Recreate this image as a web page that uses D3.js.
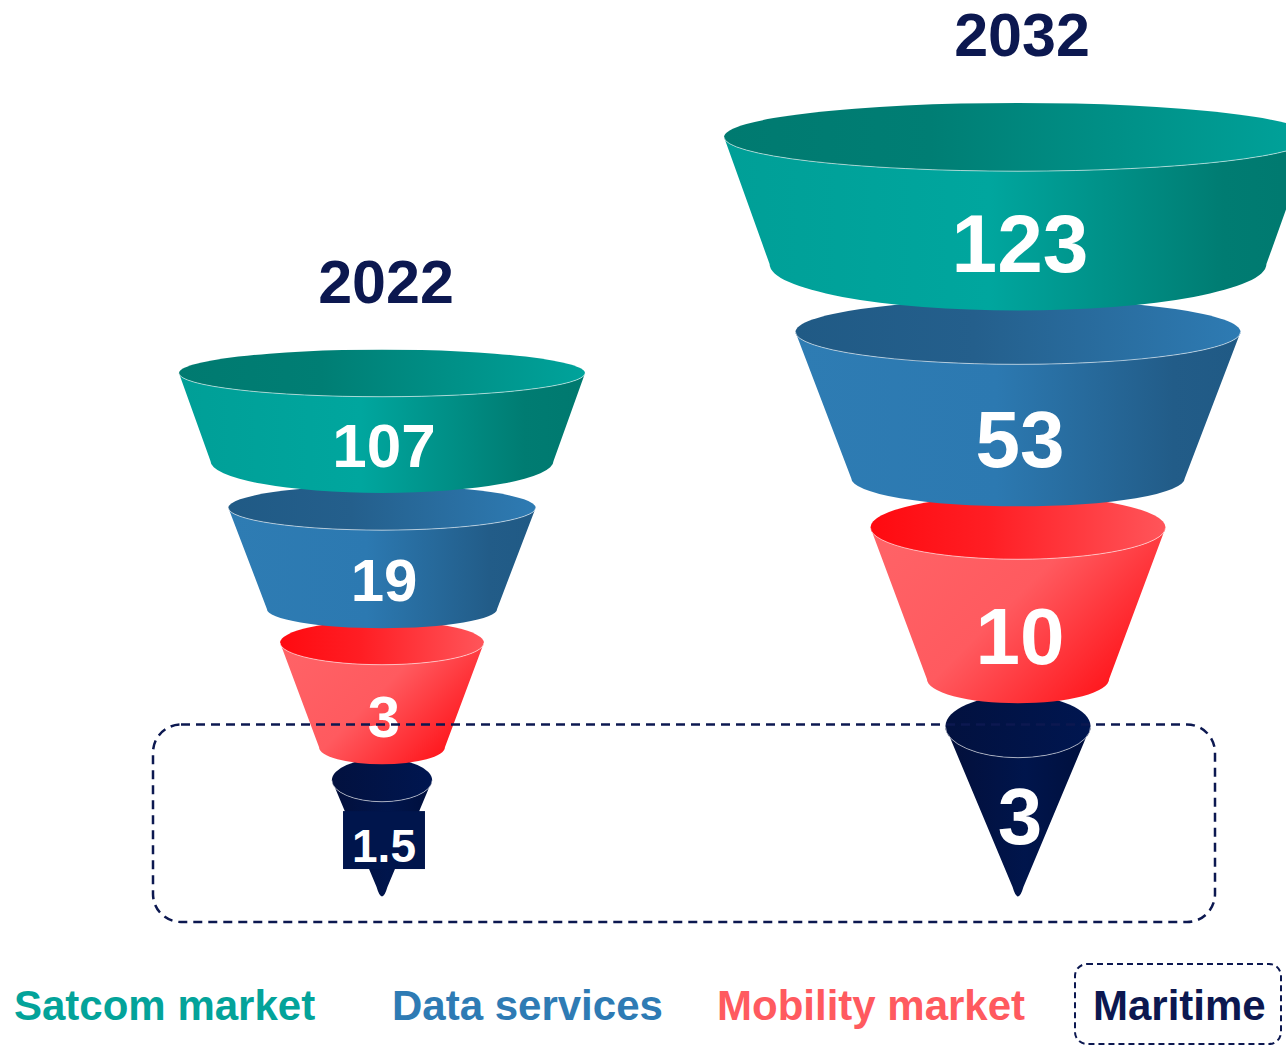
<!DOCTYPE html>
<html>
<head>
<meta charset="utf-8">
<script src="https://cdn.jsdelivr.net/npm/d3@7"></script>
<style>
  html, body { margin: 0; padding: 0; background: #fff; }
  svg { display: block; font-family: "Liberation Sans", Arial, sans-serif; font-weight: bold; }
</style>
</head>
<body>
<svg id="canvas" width="1286" height="1047"></svg>
<script>
// Market size by segment (values as printed on the funnels)
let years = ["2022", "2032"];
let segments = ["Satcom market", "Data services", "Mobility market", "Maritime"];
let values2022 = [107, 19, 3, 1.5];
let values2032 = [123, 53, 10, 3];
let valuesByYear = { "2022": values2022, "2032": values2032 };

// Look of each funnel layer, relative to the funnel's top radius
let shape = [
    { top: 1.0,   bot: 0.845, ryT: 0.116, ryB: 0.158, h: 0.432, gap: 0.231, lab: 1.065 },
    { top: 0.757, bot: 0.567, ryT: 0.110, ryB: 0.095, h: 0.498, gap: 0.167, lab: 0.92 },
    { top: 0.502, bot: 0.31,  ryT: 0.108, ryB: 0.083, h: 0.515, gap: 0.162, lab: 0.9 },
    { top: 0.247, bot: 0,     ryT: 0.106, ryB: 0,     h: 0.59,  gap: 0,     lab: 0.68 }
];
let labelSize = { "2022": [62, 60, 58, 46], "2032": [82, 80, 80, 80] };
let colorKeys = ["teal", "blue", "red", "navy"];
let legendColors = ["#03a39a", "#2e7bb4", "#ff5a5f", "#0c1850"];
let legendX = [14, 392, 717, 1093];
let navy = "#0c1850";
let tipY = 900;

let canvas = d3.select("#canvas");
let defs = canvas.append("defs");

// Gradients: body (outside wall) and top (inside of the opening)
let grads = {
    teal: { body: [[0, "#009f97"], [0.45, "#00a69e"], [0.85, "#007c72"], [1, "#00796f"]],
            top:  [[0, "#007a70"], [0.35, "#007e74"], [1, "#00a39b"]] },
    blue: { body: [[0, "#2e7cb3"], [0.45, "#2c79b1"], [0.85, "#225c88"], [1, "#205a85"]],
            top:  [[0, "#205a85"], [0.4, "#245f8c"], [1, "#2e7bb3"]] },
    red:  { body: [[0, "#ff6266"], [0.45, "#ff5a5f"], [0.78, "#ff2a30"], [1, "#ff0a10"]],
            top:  [[0, "#ff0a10"], [0.4, "#ff1e24"], [1, "#ff555a"]] },
    navy: { body: [[0, "#030f3a"], [0.55, "#00154c"], [1, "#000f3c"]],
            top:  [[0, "#02113f"], [1, "#001650"]] }
};
Object.keys(grads).forEach(k => {
    ["body", "top"].forEach(part => {
        let g = defs.append("linearGradient")
            .attr("id", k + "-" + part)
            .attr("x1", 0).attr("x2", 1)
            .attr("y1", (k == "red" && part == "body") ? 0.2 : 0)
            .attr("y2", (k == "red" && part == "body") ? 0.8 : 0);
        g.selectAll("stop").data(grads[k][part]).enter().append("stop")
            .attr("offset", d => d[0])
            .attr("stop-color", d => d[1]);
    });
});

// Funnel size follows the year's total, position follows the year
let totals = years.map(y => d3.sum(valuesByYear[y]));
let rScale = d3.scaleLinear().domain([0, d3.max(totals)]).range([0, 294]);
let xScale = d3.scalePoint().domain(years).range([382, 1018]);

let drawFunnel = (year) => {
    let vals = valuesByYear[year];
    let cx = xScale(year);
    let R = rScale(d3.sum(vals));
    let g = canvas.append("g");

    // work out layer positions top-down so the last tip lands on tipY
    let height = d3.sum(shape, s => s.h + s.gap) * R;
    let y = tipY - height;
    let layers = shape.map((s, i) => {
        let l = {
            i: i, value: vals[i],
            tR: s.top * R, bR: s.bot * R,
            tRy: s.ryT * R, bRy: s.ryB * R,
            tY: y, bY: y + s.h * R,
            labY: y + s.lab * s.h * R
        };
        y = l.bY + s.gap * R;
        return l;
    });

    let bodyPath = (l) => {
        if (l.bR > 0) {
            return "M" + (cx - l.tR) + "," + l.tY +
                "L" + (cx - l.bR) + "," + l.bY +
                "A" + l.bR + "," + l.bRy + " 0 0 0 " + (cx + l.bR) + "," + l.bY +
                "L" + (cx + l.tR) + "," + l.tY +
                "A" + l.tR + "," + l.tRy + " 0 0 1 " + (cx - l.tR) + "," + l.tY + "Z";
        }
        // cone with a rounded tip
        let len = Math.hypot(l.tR, l.bY - l.tY);
        let d = 14;
        let fx = l.tR * d / len, fy = (l.bY - l.tY) * d / len;
        return "M" + (cx - l.tR) + "," + l.tY +
            "L" + (cx - fx) + "," + (l.bY - fy) +
            "Q" + cx + "," + (l.bY + 6) + " " + (cx + fx) + "," + (l.bY - fy) +
            "L" + (cx + l.tR) + "," + l.tY +
            "A" + l.tR + "," + l.tRy + " 0 0 1 " + (cx - l.tR) + "," + l.tY + "Z";
    };

    // lower layers first, so each upper layer's rounded bottom covers the next rim
    let order = layers.slice().reverse();
    let layer = g.selectAll("g.layer").data(order).enter().append("g").attr("class", "layer");

    layer.append("path")
        .attr("d", bodyPath)
        .attr("fill", l => "url(#" + colorKeys[l.i] + "-body)");

    layer.append("ellipse")
        .attr("cx", cx).attr("cy", l => l.tY)
        .attr("rx", l => l.tR).attr("ry", l => l.tRy)
        .attr("fill", l => "url(#" + colorKeys[l.i] + "-top)");

    // thin light rim on the front edge
    layer.append("path")
        .attr("d", l => "M" + (cx - l.tR) + "," + l.tY + "A" + l.tR + "," + l.tRy + " 0 0 0 " + (cx + l.tR) + "," + l.tY)
        .attr("fill", "none")
        .attr("stroke", "rgba(255,255,255,0.55)")
        .attr("stroke-width", 1);

    // value labels
    layers.forEach(l => {
        let size = labelSize[year][l.i];
        let txt = g.append("text")
            .attr("x", cx + 2)
            .attr("y", l.labY)
            .attr("text-anchor", "middle")
            .attr("font-size", size)
            .attr("fill", "#fff")
            .text(String(l.value));
        // a label wider than the cone at its middle gets a dark plate behind it
        let w = txt.node().getComputedTextLength();
        let midY = l.labY - size * 0.36;
        let coneW = 2 * l.tR * (1 - (midY - l.tY) / (l.bY - l.tY));
        if (l.bR == 0 && w > coneW) {
            g.insert("rect", "text")
                .attr("x", cx + 2 - w / 2 - 9)
                .attr("y", l.labY - size * 1.1)
                .attr("width", w + 18)
                .attr("height", size * 1.26)
                .attr("fill", "#00154c");
        }
    });

    // year title above the funnel
    g.append("text")
        .attr("x", cx + 4)
        .attr("y", layers[0].tY - layers[0].tRy - 47)
        .attr("text-anchor", "middle")
        .attr("font-size", 61)
        .attr("fill", navy)
        .text(year);

    return layers;
};

let funnels = years.map(drawFunnel);

// dashed box around the maritime layer of both funnels
let mar2032 = funnels[1][3];
canvas.append("rect")
    .attr("x", xScale("2022") - 229)
    .attr("y", mar2032.tY - 2)
    .attr("width", xScale("2032") - xScale("2022") + 426)
    .attr("height", tipY + 22 - (mar2032.tY - 2))
    .attr("rx", 28).attr("ry", 28)
    .attr("fill", "none")
    .attr("stroke", navy)
    .attr("stroke-width", 2.5)
    .attr("stroke-dasharray", "9,6");

// legend
let legend = canvas.append("g");
legend.selectAll("text").data(segments).enter().append("text")
    .attr("x", (d, i) => legendX[i])
    .attr("y", 1020)
    .attr("font-size", 42)
    .attr("fill", (d, i) => legendColors[i])
    .text(d => d);

legend.append("rect")
    .attr("x", 1075).attr("y", 964)
    .attr("width", 206).attr("height", 80)
    .attr("rx", 12).attr("ry", 12)
    .attr("fill", "none")
    .attr("stroke", navy)
    .attr("stroke-width", 2)
    .attr("stroke-dasharray", "6,4");
</script>
</body>
</html>
